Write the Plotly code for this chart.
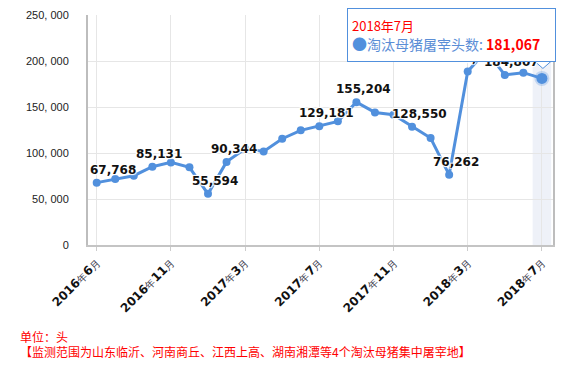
import plotly.graph_objects as go

# ---------------- data ----------------
months = ["2016年6月", "2016年7月", "2016年8月", "2016年9月", "2016年11月", "2016年12月",
          "2017年1月", "2017年2月", "2017年3月", "2017年4月", "2017年5月", "2017年6月",
          "2017年7月", "2017年8月", "2017年9月", "2017年10月", "2017年11月", "2017年12月",
          "2018年1月", "2018年2月", "2018年3月", "2018年4月", "2018年5月", "2018年6月",
          "2018年7月"]
sows = [67768, 71700, 75300, 85131, 89800, 84400, 55594, 90344, 104500, 101700,
        115500, 124600, 129181, 134400, 155204, 144100, 141600, 128550, 116300, 76262,
        188716, 211000, 184807, 187300, 181067]
label_months = ["2016年6月", "2016年9月", "2017年1月", "2017年2月", "2017年7月",
                "2017年9月", "2017年12月", "2018年2月", "2018年3月", "2018年4月", "2018年5月"]
x_tick_months = ["2016年6月", "2016年11月", "2017年3月", "2017年7月",
                 "2017年11月", "2018年3月", "2018年7月"]
y_tick_vals = [0, 50000, 100000, 150000, 200000, 250000]
y_tick_text = ["0", "50, 000", "100, 000", "150, 000", "200, 000", "250, 000"]
series_name = "淘汰母猪屠宰头数"
tip_month = "2018年7月"
unit_note = "单位：头"
scope_note = "【监测范围为山东临沂、河南商丘、江西上高、湖南湘潭等4个淘汰母猪集中屠宰地】"

LINE = "#5190dd"
CJK = "Noto Sans CJK SC"


def tick_html(m):
    y, rest = m.split("年")
    mo = rest.replace("月", "")
    small = "<span style='font-size:10px;font-weight:normal;color:#334'>"
    return f"<b>{y}</b>{small}年</span><b>{mo}</b>{small}月</span>"


fig = go.Figure()
fig.add_trace(go.Scatter(
    x=months, y=sows, mode="lines+markers", name=series_name,
    line=dict(color=LINE, width=3),
    marker=dict(size=8, color=LINE),
    hoverinfo="skip", showlegend=False))
# highlighted (hovered) point
fig.add_trace(go.Scatter(
    x=[tip_month], y=[sows[months.index(tip_month)]], mode="markers",
    marker=dict(size=11, color=LINE, line=dict(width=4, color="rgba(81,144,221,0.28)")),
    hoverinfo="skip", showlegend=False))

annotations = []
halo = "1px 1px 1px #fff, -1px -1px 1px #fff, 1px -1px 1px #fff, -1px 1px 1px #fff"
for m in label_months:
    v = sows[months.index(m)]
    first = months.index(m) == 0
    annotations.append(dict(
        x=m, y=v, xref="x", yref="y", text=f"{v:,}", showarrow=False,
        xanchor="left" if first else "center", yanchor="bottom",
        xshift=-9 if first else 7, yshift=4,
        font=dict(family="DejaVu Sans", size=12, color="#111", weight="bold", shadow=halo)))

# notes under the chart
annotations.append(dict(
    x=-0.151, y=-0.399, xref="paper", yref="paper", text=unit_note, showarrow=False,
    xanchor="left", yanchor="middle", font=dict(family=CJK, size=12, color="#ff0000")))
annotations.append(dict(
    x=-0.151, y=-0.464, xref="paper", yref="paper", text=scope_note, showarrow=False,
    xanchor="left", yanchor="middle", font=dict(family=CJK, size=12, color="#ff0000")))

# tooltip box
tip_val = sows[months.index(tip_month)]
tip_text = (f"<span style='font-size:13px;color:#ff0000'>{tip_month}</span><br>"
            f"<span style='color:{LINE}'>●</span>"
            f"<span style='color:#5b8ed6;font-size:14px'>{series_name}: </span>"
            f"<b><span style='color:#ff0000;font-size:14px'>{tip_val:,}</span></b>")
annotations.append(dict(
    x=0.557, y=1.031, xref="paper", yref="paper", text=tip_text, showarrow=False,
    xanchor="left", yanchor="top", align="left", valign="middle",
    width=199, height=44, borderpad=4,
    bgcolor="#ffffff", bordercolor=LINE, borderwidth=1,
    font=dict(family=CJK, size=15, color="#333")))

shapes = [
    # axis pointer shadow band
    dict(type="rect", xref="x", yref="paper", x0=23.5, x1=24.5, y0=0, y1=1,
         fillcolor="#eef1f8", line=dict(width=0), layer="below"),
    # tooltip arrow
    dict(type="path", xref="x", yref="paper", xsizemode="pixel", ysizemode="pixel",
         xanchor=24, yanchor=0.798, path="M-7,0 L1,-7 L9,0 Z",
         fillcolor="#ffffff", line=dict(color=LINE, width=1), layer="above"),
]

# the page body has an 8px default margin: the figure is sized so that the
# plot area lands at the same place as in the reference picture
fig.update_layout(
    width=561, height=359,
    margin=dict(l=80, r=16, t=7, b=122),
    paper_bgcolor="#ffffff", plot_bgcolor="#ffffff",
    font=dict(family=CJK, color="#333"),
    hovermode=False,
    annotations=annotations,
    shapes=shapes,
    xaxis=dict(
        type="category", categoryorder="array", categoryarray=months,
        range=[-0.469, 24.598],
        tickmode="array", tickvals=x_tick_months,
        ticktext=[tick_html(m) for m in x_tick_months],
        tickangle=-45, tickfont=dict(family="DejaVu Sans", size=12, color="#111"),
        ticks="outside", ticklen=4, tickcolor="#cccccc",
        showgrid=True, gridcolor="#e6e6e6", gridwidth=1,
        showline=True, linecolor="#c4c4c4", linewidth=2,
        zeroline=False, fixedrange=True, automargin=False),
    yaxis=dict(
        range=[0, 250000], tickmode="array", tickvals=y_tick_vals, ticktext=y_tick_text,
        tickfont=dict(family="Liberation Sans", size=11, color="#222"),
        ticks="", ticklabelstandoff=15,
        showgrid=True, gridcolor="#e6e6e6", gridwidth=1,
        showline=True, linecolor="#bdbdbd", linewidth=2, mirror=True,
        zeroline=False, fixedrange=True, automargin=False),
)

fig.write_html("out.html")
